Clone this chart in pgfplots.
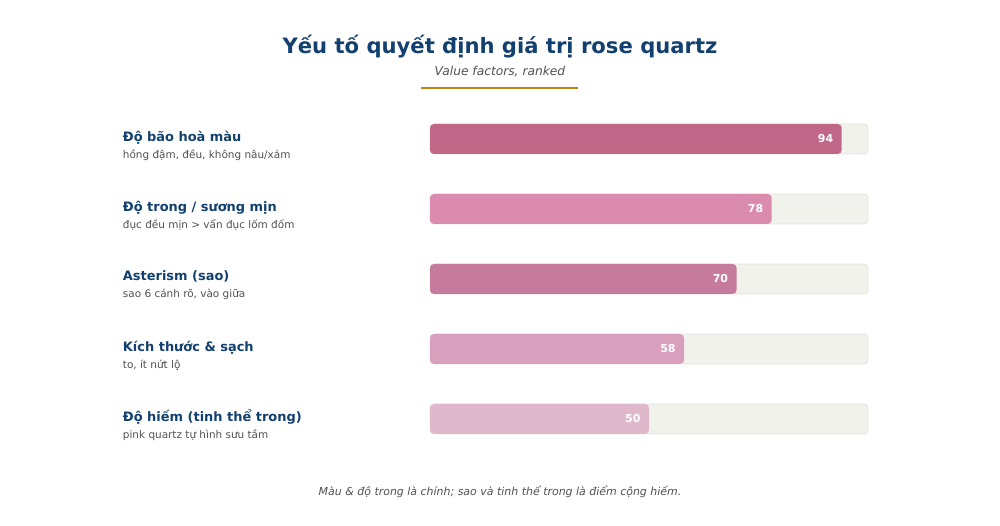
\documentclass[border=0pt]{standalone}
\usepackage{fontspec}
\setmainfont{DejaVu Sans}
\usepackage{pgfplots}
\pgfplotsset{compat=1.18}
\definecolor{barA}{HTML}{C06687}
\definecolor{barB}{HTML}{DA8BAE}
\definecolor{barC}{HTML}{C77B9C}
\definecolor{barD}{HTML}{D8A0BC}
\definecolor{barE}{HTML}{E0B8CB}
\definecolor{track}{HTML}{F2F2EC}
\definecolor{trackline}{HTML}{E2E2DC}
\definecolor{navy}{HTML}{12406F}
\definecolor{gold}{HTML}{B8860B}
\definecolor{subgray}{HTML}{505050}
\newcommand{\lab}[2]{{\fontsize{13}{15}\selectfont\bfseries\color{navy}#1}\\[5bp]{\fontsize{10.5}{12}\selectfont\color{subgray}#2}}
\begin{document}
\begin{tikzpicture}[x=1bp,y=1bp]
\path[use as bounding box] (0,0) rectangle (1000,526);
\node[font=\fontsize{21.2}{25}\selectfont\bfseries, text=navy] at (500,479.5) {Yếu tố quyết định giá trị rose quartz};
\node[font=\fontsize{12.3}{14}\selectfont\itshape, text=subgray] at (500,454.5) {Value factors, ranked};
\draw[gold, line width=2bp] (421,438) -- (578,438);
\node[font=\fontsize{11}{13}\selectfont\itshape, text=subgray] at (500,34.5) {Màu \& độ trong là chính; sao và tinh thể trong là điểm cộng hiếm.};
\begin{axis}[
  at={(430bp,72bp)}, anchor=south west,
  scale only axis, width=438bp, height=350bp,
  xmin=0, xmax=100, ymin=0.5, ymax=5.5,
  xbar, bar width=30bp, bar shift=0pt,
  axis line style={draw=none}, tick style={draw=none},
  xtick=\empty,
  ytick={1,2,3,4,5},
  /pgf/number format/assume math mode=true,
  yticklabels={
    {\lab{Độ hiếm (tinh thể trong)}{pink quartz tự hình sưu tầm}},
    {\lab{Kích thước \& sạch}{to, ít nứt lộ}},
    {\lab{Asterism (sao)}{sao 6 cánh rõ, vào giữa}},
    {\lab{Độ trong / sương mịn}{đục đều mịn > vẩn đục lốm đốm}},
    {\lab{Độ bão hoà màu}{hồng đậm, đều, không nâu/xám}}},
  yticklabel style={anchor=west, align=left, inner sep=0pt, xshift=-303bp, yshift=-6.5bp},
  clip=false,
  value/.style={draw=none, fill=#1, rounded corners=4bp,
    nodes near coords,
    every node near coord/.append style={anchor=east, xshift=-5bp, text=white, font=\fontsize{11}{13}\selectfont\bfseries}},
]
\addplot[fill=track, draw=trackline, line width=0.8bp, rounded corners=4bp] coordinates {(100,1) (100,2) (100,3) (100,4) (100,5)};
\addplot[value=barA] coordinates {(94,5)};
\addplot[value=barB] coordinates {(78,4)};
\addplot[value=barC] coordinates {(70,3)};
\addplot[value=barD] coordinates {(58,2)};
\addplot[value=barE] coordinates {(50,1)};
\end{axis}
\end{tikzpicture}
\end{document}
